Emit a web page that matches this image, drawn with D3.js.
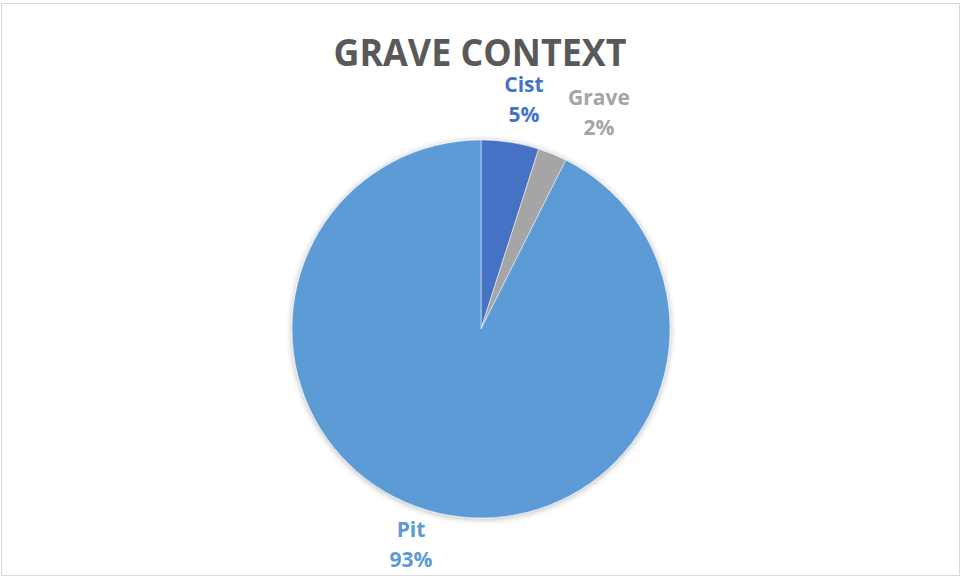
<!DOCTYPE html>
<html><head><meta charset="utf-8">
<script src="https://cdn.jsdelivr.net/npm/d3@7"></script>
<style>body{margin:0;background:#fff}svg{display:block}</style>
</head><body>
<svg id="c" width="961" height="578"></svg>
<script>
const categories = ["Cist", "Grave", "Pit"];
const values = [4, 2, 75];
const labels = ["5%", "2%", "93%"];
const colors = ["#4472C4", "#A5A5A5", "#5B9BD5"];
const title = "GRAVE CONTEXT";

const svg = d3.select("#c");
svg.append("rect").attr("x",1.5).attr("y",3.5).attr("width",958).attr("height",572)
  .attr("fill","#fff").attr("stroke","#d9d9d9").attr("stroke-width",1);

const defs = svg.append("defs");
const f = defs.append("filter").attr("id","sh").attr("x","-20%").attr("y","-20%").attr("width","140%").attr("height","140%");
f.append("feGaussianBlur").attr("in","SourceAlpha").attr("stdDeviation",3);
f.append("feOffset").attr("dx",0).attr("dy",1).attr("result","b");
f.append("feComponentTransfer").append("feFuncA").attr("type","linear").attr("slope",0.3);
const m = f.append("feMerge"); m.append("feMergeNode"); m.append("feMergeNode").attr("in","SourceGraphic");

svg.append("text").attr("x",480).attr("y",66).attr("text-anchor","middle")
  .attr("font-family","'Open Sans', sans-serif").attr("font-weight",700).attr("font-size",38)
  .attr("textLength",293).attr("lengthAdjust","spacingAndGlyphs")
  .attr("fill","#595959").text(title);

const cx = 481, cy = 329, r = 189;
const pie = d3.pie().sort(null).value(d => d)(values);
const arc = d3.arc().innerRadius(0).outerRadius(r);
const g = svg.append("g").attr("transform",`translate(${cx},${cy})`).attr("filter","url(#sh)");
g.selectAll("path").data(pie).join("path").attr("d",arc)
  .attr("fill",(d,i)=>colors[i]).attr("stroke","#fff").attr("stroke-width",0.5);

const labelPos = [[524, 92], [599, 105], [411, 537]];
categories.forEach((c,i)=>{
  const t = svg.append("text").attr("x",labelPos[i][0]).attr("y",labelPos[i][1])
    .attr("text-anchor","middle").attr("font-family","'Open Sans', sans-serif")
    .attr("font-weight",700).attr("font-size",21).attr("fill",colors[i]);
  t.append("tspan").attr("x",labelPos[i][0]).text(c);
  t.append("tspan").attr("x",labelPos[i][0]).attr("dy",30).text(labels[i]);
});
</script>
</body></html>
